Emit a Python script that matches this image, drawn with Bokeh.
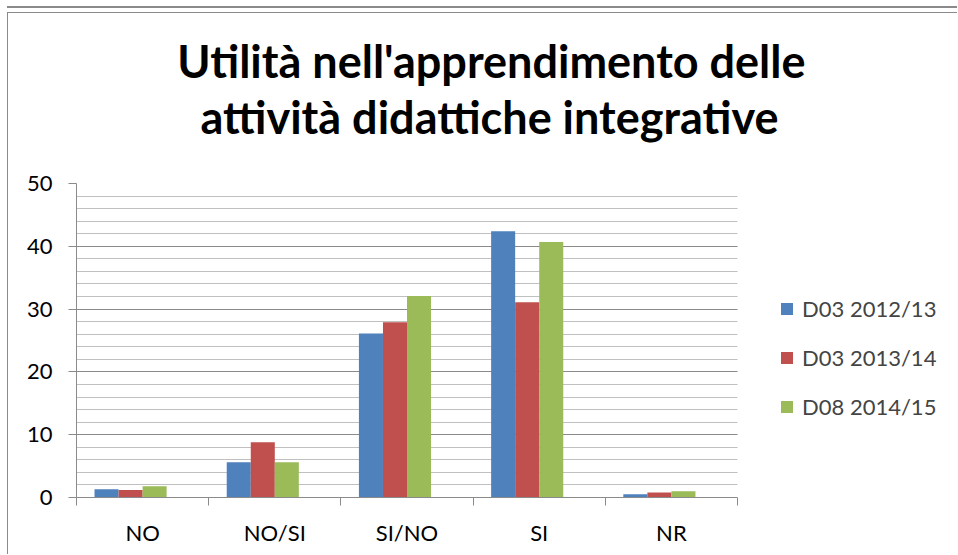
from bokeh.plotting import figure
from bokeh.models import (ColumnDataSource, Range1d, FixedTicker, SingleIntervalTicker,
                          LinearAxis, Legend, LegendItem, Title, BoxAnnotation)
from bokeh.transform import dodge
from bokeh.embed import file_html
from bokeh.resources import INLINE

categories = ["NO", "NO/SI", "SI/NO", "SI", "NR"]
series_names = ["D03 2012/13", "D03 2013/14", "D08 2014/15"]
d03_2012 = [1.3, 5.6, 26.1, 42.4, 0.5]
d03_2013 = [1.2, 8.8, 27.9, 31.1, 0.8]
d08_2014 = [1.8, 5.6, 32.1, 40.7, 1.0]
colors = ["#4F81BD", "#C0504D", "#9BBB59"]
title_lines = ["Utilità nell'apprendimento delle", "attività didattiche integrative"]

FONT = "Lato"
GRAY = "#8a8a8a"

W, H = 950, 542
LEFT, TOP, BOTTOM = 68, 170, 58
PLOT_W = 661                      # width of the category area in px
frame_w = W - LEFT
ncat = len(categories)

xpos = [i + 0.5 for i in range(ncat)]
src = ColumnDataSource(dict(x=xpos, cat=categories, s0=d03_2012, s1=d03_2013, s2=d08_2014))

p = figure(width=W, height=H, output_backend="svg", toolbar_location=None,
           x_range=Range1d(0, ncat * frame_w / PLOT_W), y_range=Range1d(0, 50),
           x_axis_location=None, y_axis_location=None,
           min_border_left=LEFT, min_border_right=0, min_border_top=TOP, min_border_bottom=BOTTOM,
           outline_line_color=None, background_fill_color="white", border_fill_color="white")
p.styles = {"margin-left": "7px", "margin-top": "12px",
            "border-left": "1px solid " + GRAY, "border-top": "1px solid " + GRAY,
            "box-shadow": "0 -4px 0 0 #ffffff, 0 -6px 0 0 " + GRAY}

bw = 1.0 / 5.5
offsets = [-1.5 * bw, -0.5 * bw, 0.5 * bw]
renderers = []
for k, col in enumerate(["s0", "s1", "s2"]):
    r = p.vbar(x=dodge("x", offsets[k], range=p.x_range), top=col, width=bw, source=src,
               fill_color=colors[k], line_color=None)
    renderers.append(r)

# y axis
yax = LinearAxis(ticker=SingleIntervalTicker(interval=10, num_minor_ticks=5))
yax.axis_line_color = GRAY
yax.major_tick_line_color = GRAY
yax.major_tick_out = 8
yax.major_tick_in = 0
yax.minor_tick_out = 0
yax.minor_tick_in = 0
yax.major_label_standoff = 16
yax.major_label_text_font = FONT
yax.major_label_text_font_size = "22px"
yax.major_label_text_color = "black"
p.add_layout(yax, "left")

# x axis: labels at category centres, ticks at category boundaries
xax = LinearAxis(ticker=FixedTicker(ticks=xpos, minor_ticks=list(range(ncat + 1))),
                 bounds=(0, ncat))
xax.major_label_overrides = {x: c for x, c in zip(xpos, categories)}
xax.axis_line_color = GRAY
xax.major_tick_out = 0
xax.major_tick_in = 0
xax.minor_tick_line_color = GRAY
xax.minor_tick_out = 8
xax.minor_tick_in = 0
xax.major_label_standoff = 13
xax.major_label_text_font = FONT
xax.major_label_text_font_size = "22px"
xax.major_label_text_color = "black"
p.add_layout(xax, "below")

p.ygrid.ticker = yax.ticker
p.ygrid.grid_line_color = GRAY
p.ygrid.minor_grid_line_color = "#c0c0c0"
p.xgrid.visible = False

# legend area (right of the categories) kept blank
p.add_layout(BoxAnnotation(left=ncat, fill_color="white", fill_alpha=1, line_color=None))

legend = Legend(items=[LegendItem(label=n, renderers=[r]) for n, r in zip(series_names, renderers)],
                location=(703, 77), padding=0, margin=0, border_line_color=None,
                background_fill_alpha=0, glyph_width=15, glyph_height=15, label_standoff=8,
                spacing=22, label_text_font=FONT, label_text_font_size="22px")
p.add_layout(legend, "center")

# spacer between chart and title block
t0 = Title(text=" ", text_font=FONT, text_font_size="10px", standoff=26)
t2 = Title(text=title_lines[1], align="right", offset=180, text_font=FONT, text_font_size="45px",
           text_font_style="bold", text_color="black", standoff=0)
t1 = Title(text=title_lines[0], align="right", offset=153, text_font=FONT, text_font_size="45px",
           text_font_style="bold", text_color="black", standoff=0)
p.add_layout(t0, "above")
p.add_layout(t2, "above")
p.add_layout(t1, "above")

open("out.html", "w").write(file_html(p, INLINE))
